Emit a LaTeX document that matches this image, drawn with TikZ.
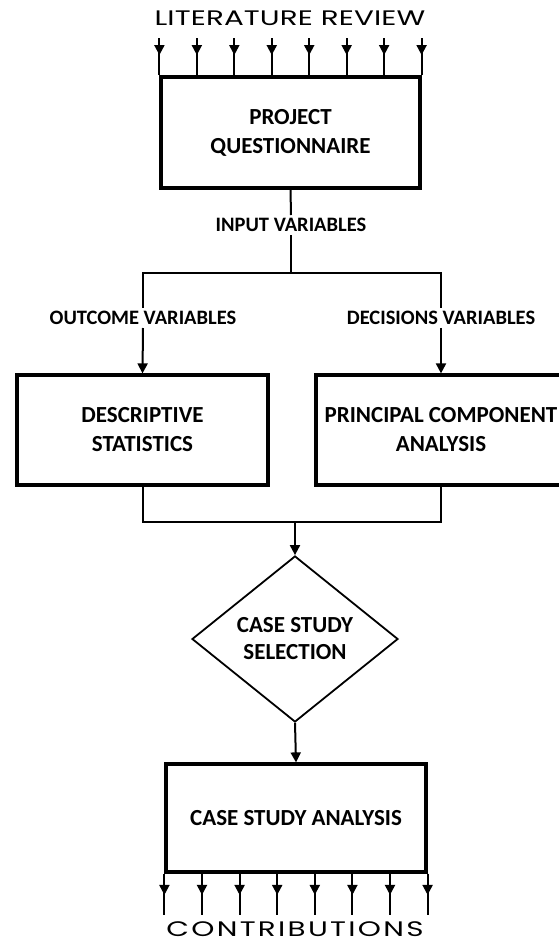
\documentclass[tikz,border=0pt]{standalone}
\usepackage{fontspec}
\setmainfont{Carlito}
\newfontfamily\gothicfont[FakeStretch=1.4, LetterSpace=0.5]{Poppins}
\newfontfamily\gothicwide[FakeStretch=1.4, LetterSpace=11]{Poppins}
\usetikzlibrary{shapes.geometric, arrows.meta, positioning, calc,
                decorations.markings}
\tikzset{
  cs/box/.style      = {rectangle, draw=black, line width=3.2pt, fill=white,
                        align=center, inner sep=2pt,
                        font=\bfseries\fontsize{23}{29}\selectfont},
  cs/decision/.style = {diamond, aspect=1.24, draw=black, line width=1.8pt,
                        align=center, inner sep=0pt, minimum width=206pt,
                        minimum height=166pt,
                        font=\bfseries\fontsize{23}{27}\selectfont},
  cs/label/.style    = {fill=white, inner sep=3pt,
                        font=\bfseries\fontsize{20.5}{24}\selectfont},
  cs/title/.style    = {inner sep=0pt, font=\fontsize{21}{25}\selectfont},
  cs/line/.style     = {line width=2pt, draw=black},
  cs/arrow/.style    = {cs/line, -{Triangle[length=10pt, width=10pt]}},
  cs/midarrow/.style = {cs/line, postaction={decorate},
                        decoration={markings,
                          mark=at position #1 with {\arrow{Triangle[length=10pt, width=10pt]}}}},
}
\begin{document}
\begin{tikzpicture}[x=1pt, y=-1pt]
  \useasboundingbox (0,0) rectangle (559,943);
  % --- boxes ---
  \node[cs/box, minimum width=259pt, minimum height=111pt] (pq)  at (290.5,132.5) {PROJECT\\QUESTIONNAIRE};
  \node[cs/box, minimum width=251pt, minimum height=110pt] (ds)  at (142.5,430)   {DESCRIPTIVE\\STATISTICS};
  \node[cs/box, minimum width=250pt, minimum height=110pt] (pca) at (441,430)     {PRINCIPAL COMPONENT\\ANALYSIS};
  \node[cs/decision]                                        (sel) at (295,639)     {CASE STUDY\\SELECTION};
  \node[cs/box, minimum width=260pt, minimum height=108pt] (csa) at (296,818)     {CASE STUDY ANALYSIS};
  % --- labels ---
  \node[cs/title] (lit) at (290,18)  {\gothicfont LITERATURE REVIEW};
  \node[cs/title] (con) at (295,929) {\gothicwide CONTRIBUTIONS};
  \node[cs/label] (inp) at (291,225) {INPUT VARIABLES};
  \node[cs/label] (out) at (143,318) {OUTCOME VARIABLES};
  \node[cs/label] (dec) at (441,318) {DECISIONS VARIABLES};
  \coordinate (split) at (291,273);
  \coordinate (join)  at (295,522);
  % --- literature in / contributions out ---
  \foreach \i in {0,...,7} {
    \draw[cs/midarrow=0.45] ($(pq.north west)!\i/7!(pq.north east)$) ++(0,-37) -- ++(0,37);
    \draw[cs/midarrow=0.52] ($(csa.south west)!\i/7!(csa.south east)$) -- ++(0,41);
  }
  % --- connectors ---
  \draw[cs/line]  (pq.south) -- (inp.north);
  \draw[cs/line]  (inp.south) -- (split);
  \draw[cs/line]  (split) -| (out.north);
  \draw[cs/line]  (split) -| (dec.north);
  \draw[cs/arrow] (out.south) -- (ds.north);
  \draw[cs/arrow] (dec.south) -- (pca.north);
  \draw[cs/line]  (ds.south) |- (join) -| (pca.south);
  \draw[cs/arrow] (join) -- (sel.north);
  \draw[cs/arrow] (sel.south) -- (csa.north);
\end{tikzpicture}
\end{document}
